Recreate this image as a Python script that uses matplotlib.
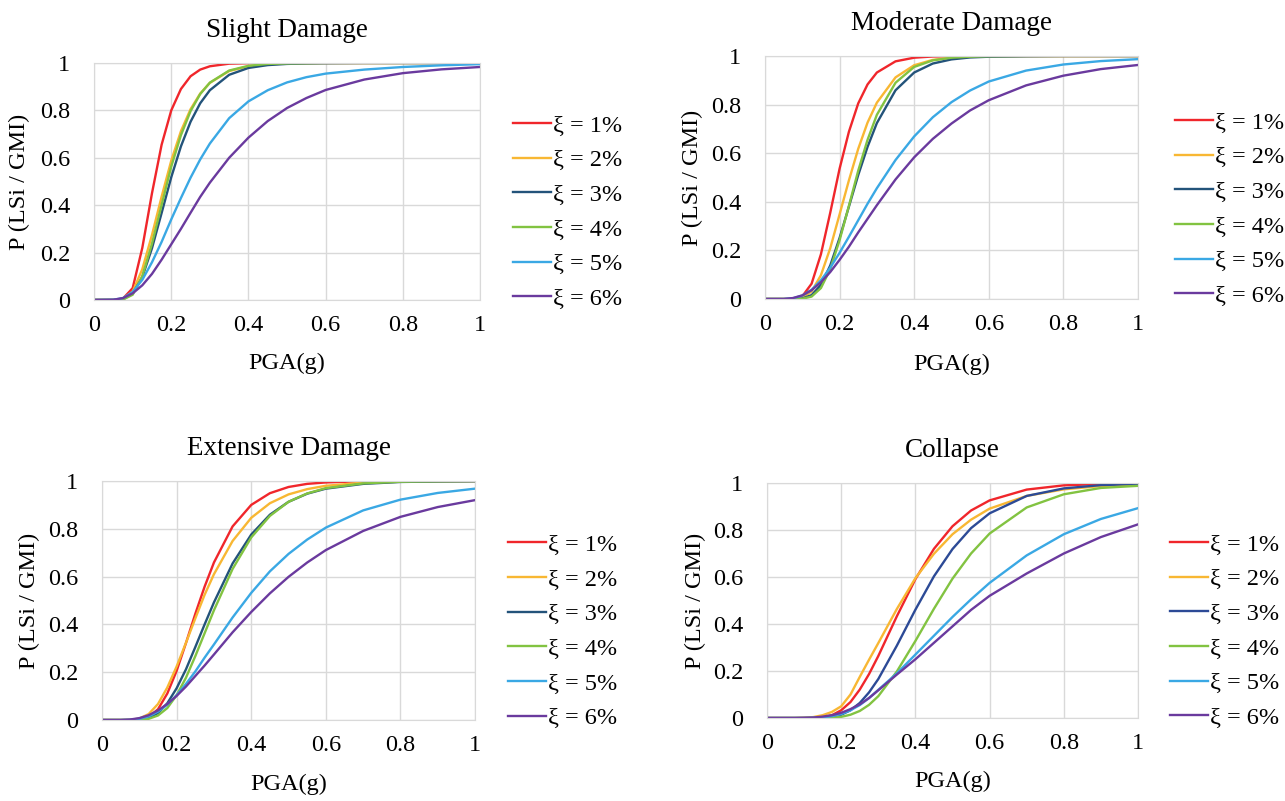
import matplotlib
matplotlib.use("Agg")
import matplotlib.pyplot as plt
from matplotlib.ticker import FormatStrFormatter, MultipleLocator

plt.rcParams['font.family'] = ['Liberation Serif', 'DejaVu Serif']

pga = [0, 0.05, 0.075, 0.1, 0.125, 0.15, 0.175, 0.2, 0.225, 0.25, 0.275,
       0.3, 0.35, 0.4, 0.45, 0.5, 0.55, 0.6, 0.7, 0.8, 0.9, 1.0]

labels = ["ξ = 1%", "ξ = 2%", "ξ = 3%", "ξ = 4%", "ξ = 5%", "ξ = 6%"]
titles = ["Slight Damage", "Moderate Damage", "Extensive Damage", "Collapse"]

# Slight damage
slight_1 = [0, 0, 0.006, 0.05, 0.22, 0.45, 0.655, 0.80, 0.89, 0.944, 0.972,
            0.986, 0.997, 0.999, 1, 1, 1, 1, 1, 1, 1, 1]
slight_2 = [0, 0, 0.004, 0.035, 0.13, 0.274, 0.436, 0.588, 0.712, 0.805, 0.871,
            0.916, 0.966, 0.986, 0.994, 0.998, 0.999, 1, 1, 1, 1, 1]
slight_3 = [0, 0, 0.003, 0.026, 0.097, 0.218, 0.367, 0.518, 0.648, 0.752, 0.83,
            0.885, 0.95, 0.979, 0.991, 0.996, 0.998, 0.999, 1, 1, 1, 1]
slight_4 = [0, 0, 0.002, 0.022, 0.1, 0.237, 0.401, 0.563, 0.695, 0.797, 0.869,
            0.917, 0.968, 0.988, 0.996, 0.998, 0.999, 1, 1, 1, 1, 1]
slight_5 = [0, 0.001, 0.008, 0.034, 0.085, 0.159, 0.245, 0.34, 0.43, 0.516, 0.593,
            0.66, 0.767, 0.838, 0.885, 0.918, 0.94, 0.955, 0.972, 0.983, 0.99, 0.995]
slight_6 = [0, 0.001, 0.008, 0.028, 0.062, 0.11, 0.17, 0.235, 0.3, 0.368, 0.435,
            0.495, 0.6, 0.685, 0.755, 0.81, 0.852, 0.886, 0.93, 0.957, 0.973, 0.983]

# Moderate damage
moderate_1 = [0, 0, 0, 0.011, 0.063, 0.184, 0.355, 0.536, 0.688, 0.805, 0.883,
              0.932, 0.978, 0.993, 0.998, 0.999, 1, 1, 1, 1, 1, 1]
moderate_2 = [0, 0, 0, 0.005, 0.031, 0.098, 0.209, 0.348, 0.488, 0.618, 0.726,
              0.808, 0.912, 0.962, 0.984, 0.993, 0.997, 0.999, 1, 1, 1, 1]
moderate_3 = [0, 0, 0, 0.002, 0.016, 0.058, 0.138, 0.251, 0.38, 0.51, 0.626,
              0.724, 0.859, 0.932, 0.969, 0.986, 0.994, 0.997, 0.999, 1, 1, 1]
moderate_4 = [0, 0, 0, 0.001, 0.01, 0.045, 0.123, 0.242, 0.383, 0.528, 0.655,
              0.758, 0.89, 0.955, 0.982, 0.993, 0.997, 0.999, 1, 1, 1, 1]
moderate_5 = [0, 0, 0.003, 0.014, 0.038, 0.077, 0.129, 0.19, 0.256, 0.324, 0.392,
              0.456, 0.572, 0.669, 0.748, 0.81, 0.858, 0.895, 0.94, 0.965, 0.979, 0.987]
moderate_6 = [0, 0, 0.004, 0.015, 0.036, 0.069, 0.111, 0.161, 0.215, 0.274, 0.33,
              0.386, 0.492, 0.583, 0.659, 0.722, 0.776, 0.818, 0.879, 0.919, 0.946, 0.963]

# Extensive damage
extensive_1 = [0, 0, 0, 0.002, 0.012, 0.045, 0.111, 0.206, 0.322, 0.444, 0.558,
               0.659, 0.81, 0.9, 0.949, 0.975, 0.988, 0.994, 0.999, 1, 1, 1]
extensive_2 = [0, 0, 0.001, 0.006, 0.025, 0.067, 0.136, 0.224, 0.323, 0.425, 0.524,
               0.61, 0.749, 0.846, 0.907, 0.944, 0.966, 0.98, 0.993, 0.997, 0.999, 1]
extensive_3 = [0, 0, 0, 0.001, 0.009, 0.029, 0.07, 0.133, 0.212, 0.305, 0.4,
               0.492, 0.655, 0.776, 0.859, 0.913, 0.947, 0.968, 0.988, 0.996, 0.998, 0.999]
extensive_4 = [0, 0, 0, 0.001, 0.005, 0.019, 0.05, 0.104, 0.177, 0.267, 0.363,
               0.459, 0.632, 0.764, 0.854, 0.913, 0.948, 0.97, 0.99, 0.997, 0.999, 1]
extensive_5 = [0, 0, 0.001, 0.005, 0.015, 0.035, 0.064, 0.104, 0.151, 0.203, 0.261,
               0.316, 0.429, 0.532, 0.622, 0.695, 0.755, 0.805, 0.877, 0.922, 0.95, 0.968]
extensive_6 = [0, 0, 0.002, 0.008, 0.02, 0.04, 0.067, 0.101, 0.14, 0.184, 0.228,
               0.274, 0.367, 0.452, 0.53, 0.599, 0.659, 0.711, 0.791, 0.85, 0.891, 0.92]

# Collapse
collapse_1 = [0, 0, 0, 0, 0.001, 0.003, 0.012, 0.033, 0.068, 0.121, 0.187,
              0.264, 0.433, 0.591, 0.72, 0.816, 0.883, 0.926, 0.972, 0.99, 0.996, 0.999]
collapse_2 = [0, 0, 0, 0.001, 0.004, 0.012, 0.026, 0.05, 0.1, 0.175, 0.248,
              0.319, 0.464, 0.595, 0.699, 0.782, 0.844, 0.891, 0.945, 0.973, 0.987, 0.993]
collapse_3 = [0, 0, 0, 0, 0, 0.001, 0.005, 0.014, 0.033, 0.064, 0.109,
              0.166, 0.308, 0.461, 0.603, 0.719, 0.808, 0.871, 0.945, 0.977, 0.991, 0.996]
collapse_4 = [0, 0, 0, 0, 0, 0, 0.001, 0.005, 0.014, 0.03, 0.056,
              0.093, 0.198, 0.328, 0.465, 0.593, 0.7, 0.785, 0.896, 0.952, 0.979, 0.988]
collapse_5 = [0, 0, 0, 0, 0.001, 0.003, 0.008, 0.017, 0.033, 0.055, 0.085,
              0.12, 0.19, 0.27, 0.35, 0.43, 0.505, 0.575, 0.692, 0.782, 0.847, 0.893]
collapse_6 = [0, 0, 0, 0.001, 0.002, 0.006, 0.012, 0.022, 0.038, 0.058, 0.085,
              0.118, 0.185, 0.25, 0.32, 0.39, 0.46, 0.52, 0.615, 0.7, 0.77, 0.824]

panels = [
    [slight_1, slight_2, slight_3, slight_4, slight_5, slight_6],
    [moderate_1, moderate_2, moderate_3, moderate_4, moderate_5, moderate_6],
    [extensive_1, extensive_2, extensive_3, extensive_4, extensive_5, extensive_6],
    [collapse_1, collapse_2, collapse_3, collapse_4, collapse_5, collapse_6],
]

colors_a = ["#f0262b", "#f8b733", "#23537a", "#82c341", "#3aa8e4", "#6a3a9e"]
colors_b = ["#f0262b", "#f8b733", "#2c4a96", "#82c341", "#3aa8e4", "#6a3a9e"]

fig = plt.figure(figsize=(12.85, 8.01), dpi=100)

# axes boxes in figure fractions [left, bottom, width, height]
boxes = [
    [0.0732, 0.6255, 0.3004, 0.2959],
    [0.5953, 0.6267, 0.2903, 0.3034],
    [0.0794, 0.1011, 0.2903, 0.2984],
    [0.5969, 0.1036, 0.2887, 0.2934],
]
legend_x = [1.085, 1.10, 1.088, 1.086]

for i in range(4):
    ax = fig.add_axes(boxes[i])
    cols = colors_b if i == 3 else colors_a
    for j in range(6):
        ax.plot(pga, panels[i][j], color=cols[j], lw=1.7, label=labels[j],
                solid_joinstyle='round')
    ax.set_xlim(0, 1)
    ax.set_ylim(0, 1)
    ax.xaxis.set_major_locator(MultipleLocator(0.2))
    ax.yaxis.set_major_locator(MultipleLocator(0.2))
    ax.xaxis.set_major_formatter(FormatStrFormatter('%g'))
    ax.yaxis.set_major_formatter(FormatStrFormatter('%g'))
    ax.grid(True, color="#d9d9d9", lw=1.0)
    ax.set_axisbelow(True)
    for s in ax.spines.values():
        s.set_color("#d9d9d9")
    ax.tick_params(length=0, labelsize=17.5, pad=11)
    ax.tick_params(axis='y', pad=17)
    ax.set_title(titles[i], fontsize=19.5, pad=19)
    ax.set_xlabel("PGA(g)", fontsize=17.5)
    ax.set_ylabel("P (LSi / GMI)", fontsize=17.5)
    ax.xaxis.set_label_coords(0.5, -0.225)
    ax.yaxis.set_label_coords(-0.165, 0.5)
    ax.legend(loc='center left', bbox_to_anchor=(legend_x[i], 0.37), frameon=False,
              fontsize=17.5, handlelength=1.55, handletextpad=0.08, labelspacing=0.52,
              borderaxespad=0, borderpad=0)

fig.savefig("out.png", dpi=100)
